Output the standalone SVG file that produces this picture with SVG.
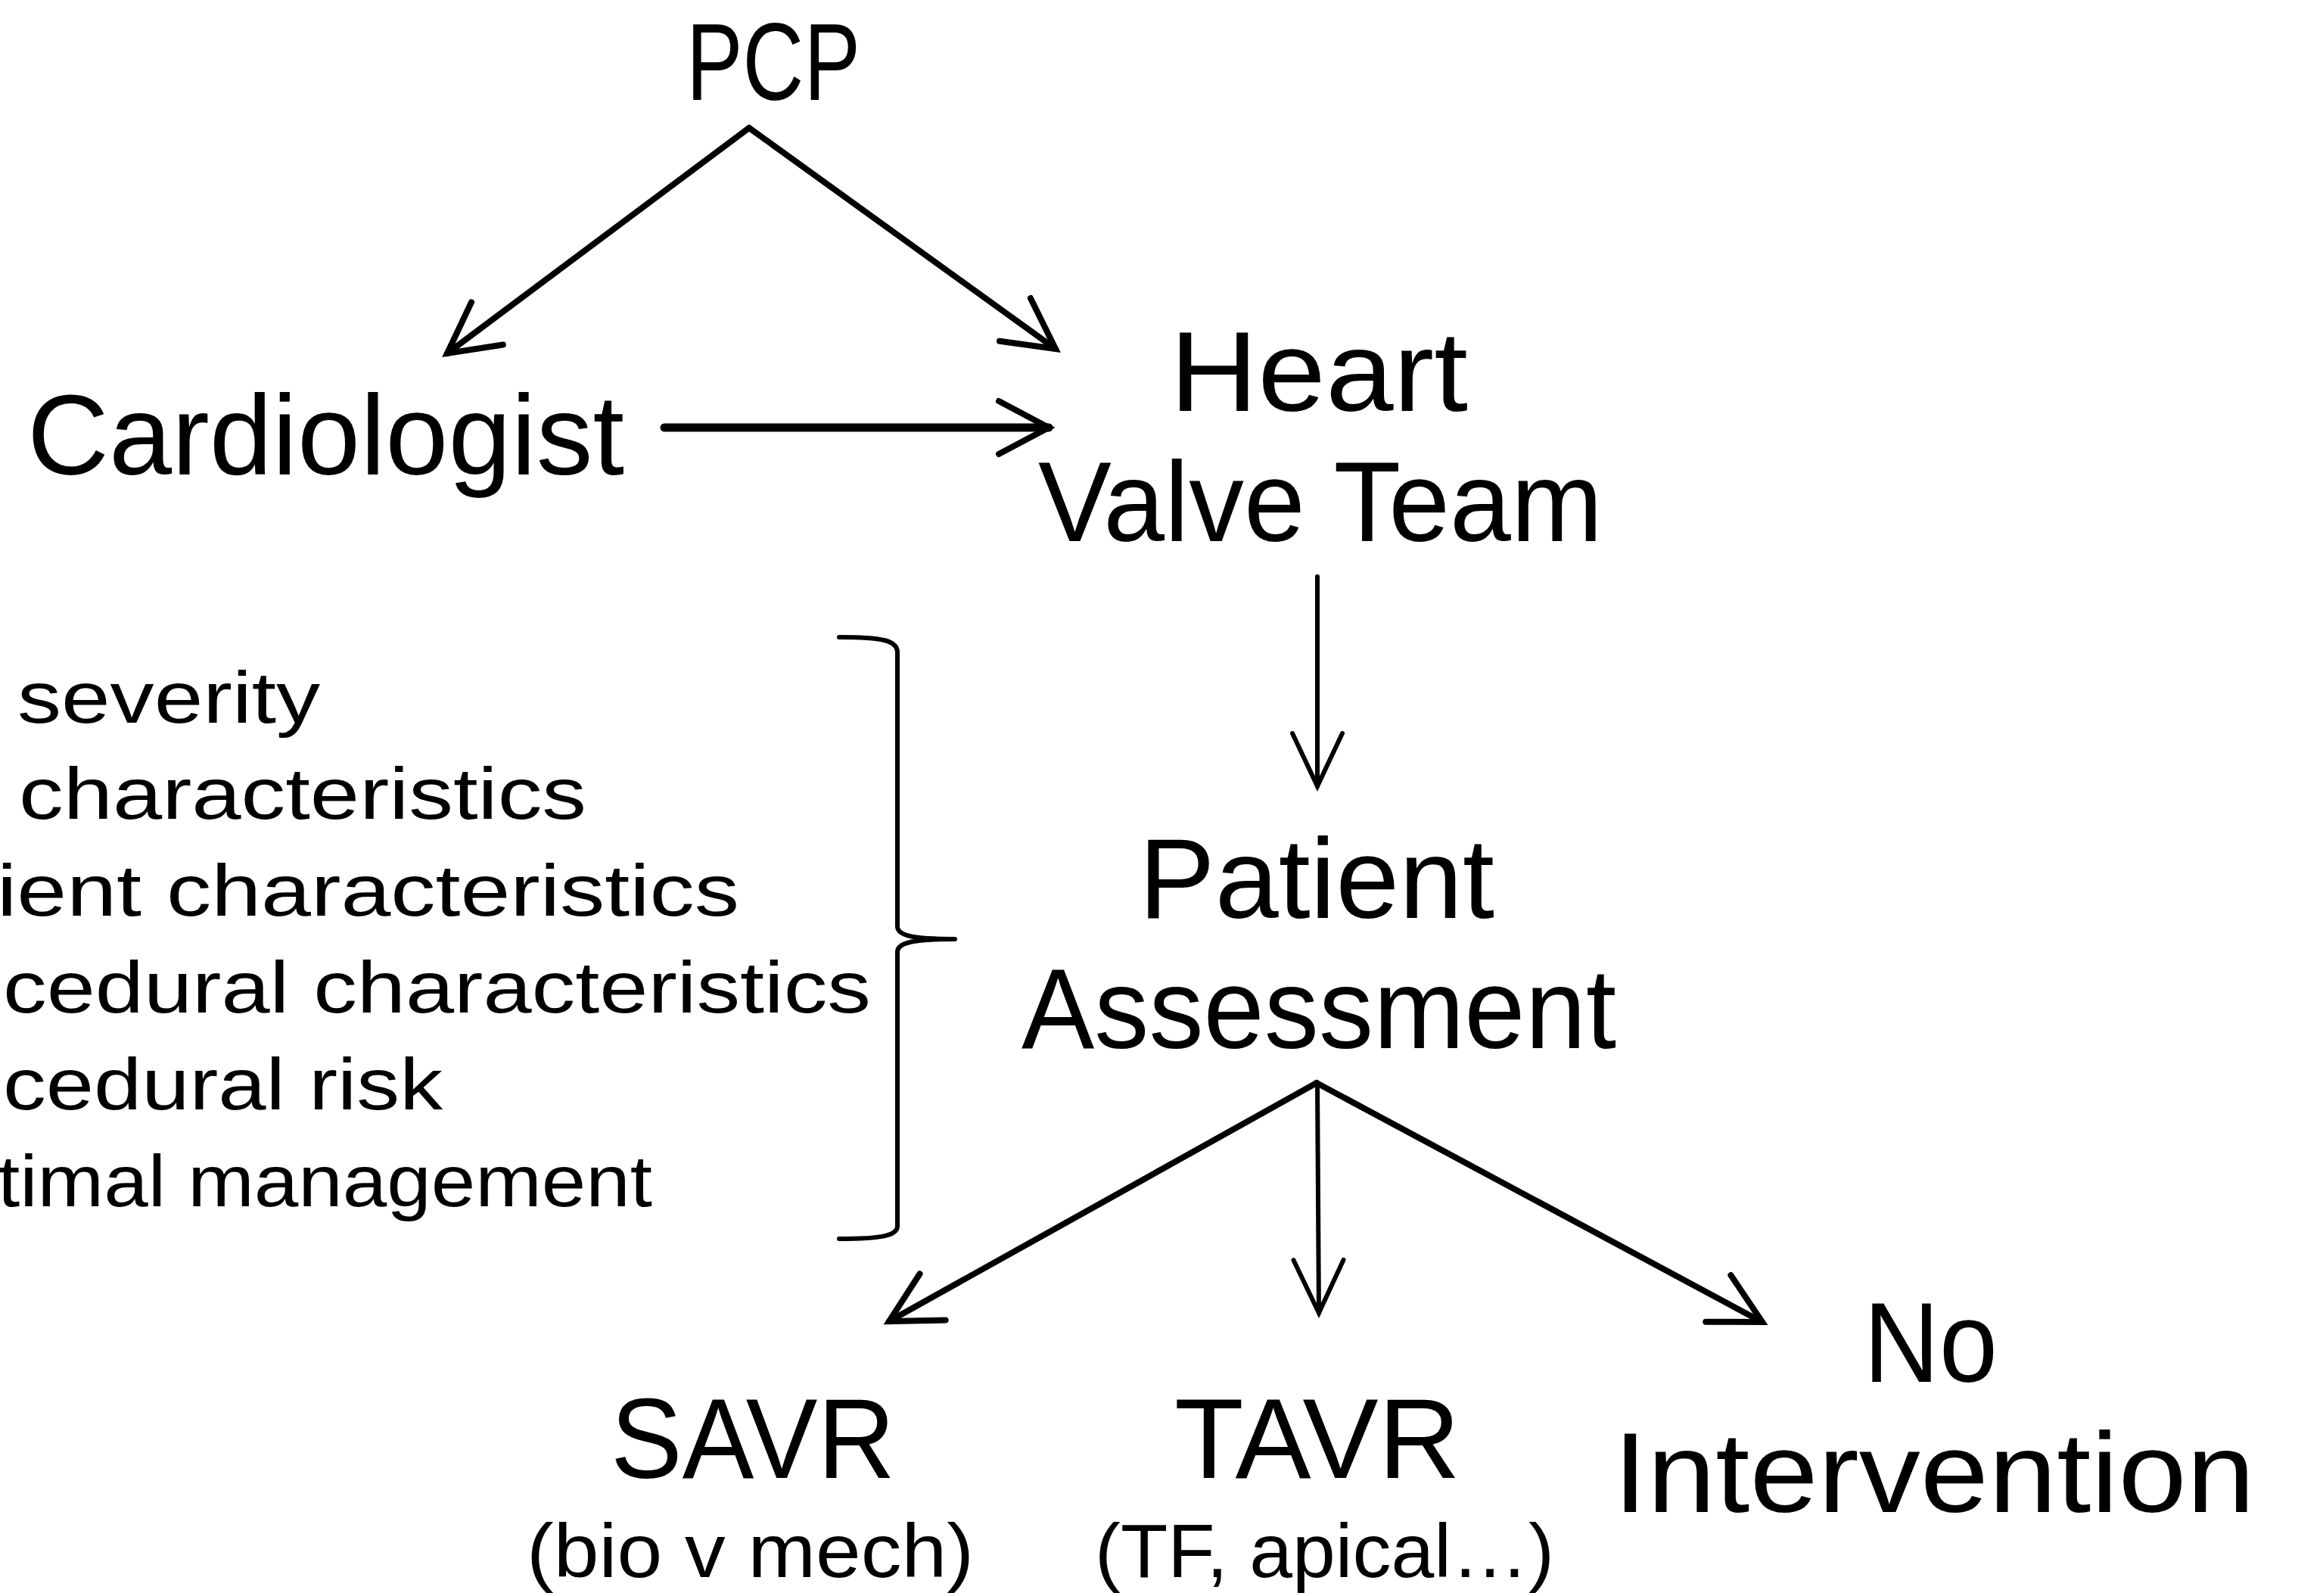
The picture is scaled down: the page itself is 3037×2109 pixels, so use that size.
<svg xmlns="http://www.w3.org/2000/svg" width="3037" height="2109" viewBox="0 0 3037 2109">
<style>
text{font-family:"Liberation Sans","DejaVu Sans",sans-serif;fill:#000}
.big{font-size:150px}
.list{font-size:97px}
.sub{font-size:100px}
.c{fill:none;stroke:#000;stroke-linecap:round;stroke-linejoin:round}
.d{stroke-width:8}
.t{stroke-width:6}
.h{stroke-width:11}
</style>
<defs>
<marker id="ah" markerUnits="userSpaceOnUse" viewBox="-80 -45 90 90" refX="0" refY="0" markerWidth="90" markerHeight="90" orient="auto">
<path d="M-66,-35 L0,0 L-66,35" fill="none" stroke="#000" stroke-width="8" stroke-linecap="round" stroke-linejoin="miter"/>
</marker>
<marker id="ahthin" markerUnits="userSpaceOnUse" viewBox="-80 -45 90 90" refX="0" refY="0" markerWidth="90" markerHeight="90" orient="auto">
<path d="M-70,-33 L0,0 L-70,33" fill="none" stroke="#000" stroke-width="6" stroke-linecap="round" stroke-linejoin="miter"/>
</marker>
</defs>
<g id="pcp"><text class="big" x="907" y="132" font-size="144" textLength="230" lengthAdjust="spacingAndGlyphs" style="font-size:144px">PCP</text></g>
<g id="cardiologist"><text class="big" x="36" y="627" textLength="789" lengthAdjust="spacingAndGlyphs">Cardiologist</text></g>
<g id="heart-valve-team">
<text class="big" x="1546" y="543" textLength="394" lengthAdjust="spacingAndGlyphs">Heart</text>
<text class="big" x="1372" y="715" textLength="746" lengthAdjust="spacingAndGlyphs">Valve Team</text>
</g>
<g id="patient-assessment">
<text class="big" x="1505" y="1213" textLength="470" lengthAdjust="spacingAndGlyphs">Patient</text>
<text class="big" x="1350" y="1385" textLength="786" lengthAdjust="spacingAndGlyphs">Assessment</text>
</g>
<g id="criteria">
<text class="list" x="23" y="955" textLength="400" lengthAdjust="spacingAndGlyphs">severity</text>
<text class="list" x="25" y="1082" textLength="750" lengthAdjust="spacingAndGlyphs">characteristics</text>
<text class="list" x="-4" y="1210" textLength="981" lengthAdjust="spacingAndGlyphs">ient characteristics</text>
<text class="list" x="4" y="1338" textLength="1147" lengthAdjust="spacingAndGlyphs">cedural characteristics</text>
<text class="list" x="4" y="1466" textLength="581" lengthAdjust="spacingAndGlyphs">cedural risk</text>
<text class="list" x="-3" y="1594" textLength="865" lengthAdjust="spacingAndGlyphs">timal management</text>
<path class="c t" d="M1109,842 C1165,842 1186,846 1186,862 L1186,1224 C1186,1236 1205,1241 1262,1241 C1205,1241 1186,1246 1186,1258 L1186,1620 C1186,1633 1165,1637 1109,1637"/>
</g>
<g id="savr">
<text class="big" x="807" y="1953" textLength="376" lengthAdjust="spacingAndGlyphs">SAVR</text>
<text class="sub" x="696" y="2084" textLength="591" lengthAdjust="spacingAndGlyphs">(bio v mech)</text>
</g>
<g id="tavr">
<text class="big" x="1552" y="1953" textLength="378" lengthAdjust="spacingAndGlyphs">TAVR</text>
<text class="sub" x="1447" y="2084" textLength="607" lengthAdjust="spacingAndGlyphs">(TF, apical…)</text>
</g>
<g id="no-intervention">
<text class="big" x="2463" y="1826" textLength="177" lengthAdjust="spacingAndGlyphs">No</text>
<text class="big" x="2132" y="1998" textLength="848" lengthAdjust="spacingAndGlyphs">Intervention</text>
</g>
<g id="connectors">
<path class="c d" d="M990,169 L591,467" marker-end="url(#ah)"/>
<path class="c d" d="M990,169 L1395,461" marker-end="url(#ah)"/>
<path class="c h" d="M878,565 L1386,565" stroke-linecap="butt" marker-end="url(#ah)"/>
<path class="c t" d="M1741,762 L1741,1039" marker-end="url(#ahthin)"/>
<path class="c d" d="M1740,1431 L1175,1746" marker-end="url(#ah)"/>
<path class="c t" d="M1741,1431 L1743,1735" marker-end="url(#ahthin)"/>
<path class="c d" d="M1740,1431 L2329,1747" marker-end="url(#ah)"/>
</g>
</svg>
